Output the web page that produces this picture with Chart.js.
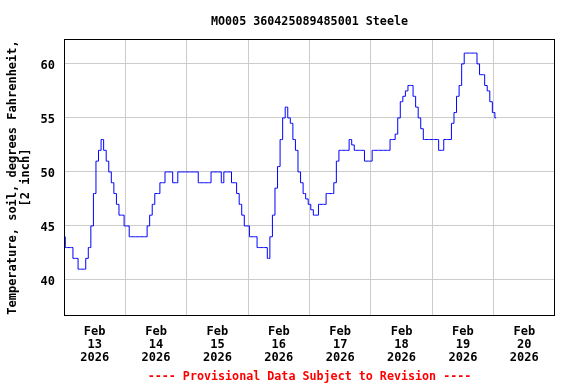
<!DOCTYPE html>
<html>
<head>
<meta charset="utf-8">
<script src="https://cdn.jsdelivr.net/npm/chart.js@4.4.1/dist/chart.umd.min.js"></script>
<style>
  body { margin: 0; background: #fff; }
  #wrap { width: 576px; height: 384px; }
</style>
</head>
<body>
<div id="wrap"><canvas id="myChart" width="576" height="384"></canvas></div>
<script>
// hourly soil temperature readings, starting Feb 13 2026 00:00
const temps = [
  44, 43, 43, 43, 42, 42, 41, 41, 41, 42, 43, 45, 48, 51, 52, 53, 52, 51, 50, 49, 48, 47, 46, 46,
  45, 45, 44, 44, 44, 44, 44, 44, 44, 45, 46, 47, 48, 48, 49, 49, 50, 50, 50, 49, 49, 50, 50, 50,
  50, 50, 50, 50, 50, 49, 49, 49, 49, 49, 50, 50, 50, 50, 49, 50, 50, 50, 49, 49, 48, 47, 46, 45,
  45, 44, 44, 44, 43, 43, 43, 43, 42, 44, 46, 48.5, 50.5, 53, 55, 56, 55, 54.5, 53, 52, 50, 49, 48, 47.5,
  47, 46.5, 46, 46, 47, 47, 47, 48, 48, 48, 49, 51, 52, 52, 52, 52, 53, 52.5, 52, 52, 52, 52, 51, 51,
  51, 52, 52, 52, 52, 52, 52, 52, 53, 53, 53.5, 55, 56.5, 57, 57.5, 58, 58, 57, 56, 55, 54, 53, 53, 53,
  53, 53, 53, 52, 52, 53, 53, 53, 54.5, 55.5, 57, 58, 60, 61, 61, 61, 61, 61, 60, 59, 59, 58, 57.5, 56.5,
  55.5, 55
];
const hours = temps.map((t, i) => i);

const dayTicks = [0, 12, 24, 36, 48, 60, 72, 84, 96, 108, 120, 132, 144, 156, 168, 180, 192];
const dayLabels = {
  12: ['Feb', '13', '2026'],
  36: ['Feb', '14', '2026'],
  60: ['Feb', '15', '2026'],
  84: ['Feb', '16', '2026'],
  108: ['Feb', '17', '2026'],
  132: ['Feb', '18', '2026'],
  156: ['Feb', '19', '2026'],
  180: ['Feb', '20', '2026']
};
const yTicks = [40, 45, 50, 55, 60];

const monoFont = { family: '"DejaVu Sans Mono", monospace', size: 12, weight: 'bold', lineHeight: 13 / 12 };
const headFont = { family: '"DejaVu Sans Mono", monospace', size: 11.7, weight: 'bold' };

const frame = {
  id: 'frame',
  afterDraw(chart) {
    const a = chart.chartArea;
    const c = chart.ctx;
    c.save();
    c.strokeStyle = '#000';
    c.lineWidth = 1;
    c.strokeRect(Math.round(a.left) + 0.5, Math.round(a.top) + 0.5,
      Math.round(a.right - a.left) - 1, Math.round(a.bottom - a.top) - 1);
    c.restore();
  }
};

const ctx = document.getElementById('myChart');
new Chart(ctx, {
  type: 'line',
  data: {
    datasets: [{
      data: hours.map((h, i) => ({ x: h, y: temps[i] })),
      borderColor: '#0000ff',
      borderWidth: 1,
      pointRadius: 0,
      stepped: 'middle',
      fill: false
    }]
  },
  options: {
    responsive: false,
    animation: false,
    layout: { padding: { left: 0, right: 21, top: 0, bottom: 0 } },
    plugins: {
      legend: { display: false },
      tooltip: { enabled: false },
      title: {
        display: true,
        fullSize: false,
        text: 'MO005 360425089485001 Steele',
        color: '#000',
        font: headFont,
        padding: { top: 14.5, bottom: 10.5 }
      },
      subtitle: {
        display: true,
        fullSize: false,
        position: 'bottom',
        text: '---- Provisional Data Subject to Revision ----',
        color: '#ff0000',
        font: headFont,
        padding: { top: 5.6, bottom: 0.4 }
      }
    },
    scales: {
      x: {
        type: 'linear',
        min: 0,
        max: 192,
        afterBuildTicks: axis => { axis.ticks = dayTicks.map(v => ({ value: v })); },
        afterFit: scale => { scale.height = 48; },
        border: { display: false },
        grid: {
          drawTicks: false,
          color: c => (c.tick && c.tick.value % 24 === 0 && c.tick.value > 0 && c.tick.value < 192) ? '#cccccc' : 'rgba(0,0,0,0)',
          lineWidth: 1
        },
        ticks: {
          autoSkip: false,
          maxRotation: 0,
          padding: 9.5,
          color: '#000',
          font: monoFont,
          callback: v => dayLabels[v] || ''
        }
      },
      y: {
        min: 36.67,
        max: 62.3,
        afterBuildTicks: axis => { axis.ticks = yTicks.map(v => ({ value: v })); },
        afterFit: scale => { scale.width = 64; },
        border: { display: false },
        grid: { drawTicks: false, color: '#cccccc', lineWidth: 1 },
        ticks: { padding: 9, labelOffset: 1.5, color: '#000', font: monoFont },
        title: {
          display: true,
          text: ['Temperature, soil, degrees Fahrenheit,', '[2 inch]'],
          color: '#000',
          font: monoFont,
          padding: { top: 6, bottom: 0 }
        }
      }
    }
  },
  plugins: [frame]
});
</script>
</body>
</html>
